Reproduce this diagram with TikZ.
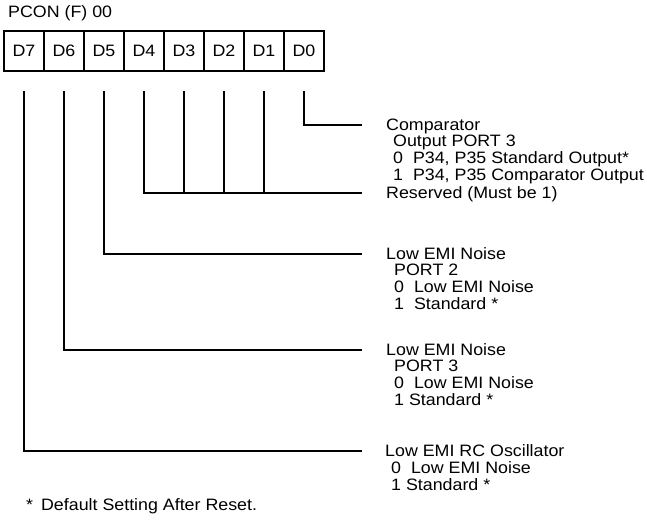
\documentclass[tikz,border=0pt]{standalone}
\usepackage{fontspec}
\setmainfont{Liberation Sans}[FakeStretch=1.08]
\usetikzlibrary{positioning}

\begin{document}
\begin{tikzpicture}[
                x=1pt, y=-1pt,
                bit/.style={rectangle, draw, line width=1.6pt, minimum width=40pt, minimum height=40pt, inner sep=0pt, outer sep=0pt, font=\fontsize{16.5}{17}\selectfont},
                head/.style={anchor=west, inner sep=0pt, text height=11.5pt, text depth=0pt, font=\fontsize{16.5}{17}\selectfont},
                sub/.style={align=left, inner sep=0pt, font=\fontsize{16.5}{17}\selectfont},
                wire/.style={draw, line width=2pt}
            ]
                \useasboundingbox (0,0) rectangle (647,524);

                % Register
                \node [head] (title) at (8,12) {PCON (F) 00};
                \node [bit] (D7) at (24,51) {D7};
                \node [bit, right=0pt of D7] (D6) {D6};
                \node [bit, right=0pt of D6] (D5) {D5};
                \node [bit, right=0pt of D5] (D4) {D4};
                \node [bit, right=0pt of D4] (D3) {D3};
                \node [bit, right=0pt of D3] (D2) {D2};
                \node [bit, right=0pt of D2] (D1) {D1};
                \node [bit, right=0pt of D1] (D0) {D0};

                % Tops of the bit lines
                \coordinate (t7) at ([yshift=-20pt]D7.south);
                \coordinate (t6) at ([yshift=-20pt]D6.south);
                \coordinate (t5) at ([yshift=-20pt]D5.south);
                \coordinate (t4) at ([yshift=-20pt]D4.south);
                \coordinate (t3) at ([yshift=-20pt]D3.south);
                \coordinate (t2) at ([yshift=-20pt]D2.south);
                \coordinate (t1) at ([yshift=-20pt]D1.south);
                \coordinate (t0) at ([yshift=-20pt]D0.south);

                % Descriptions
                \node [head] (cmp) at (386,125) {Comparator};
                \node [sub, below right=4pt and 7pt of cmp.south west] (cmp_sub) {Output PORT 3\\0\ \ P34, P35 Standard Output*\\1\ \ P34, P35 Comparator Output};
                \node [head] (res) at (386,193) {Reserved (Must be 1)};
                \node [head] (emi2) at (386,254) {Low EMI Noise};
                \node [sub, below right=4pt and 8pt of emi2.south west] (emi2_sub) {PORT 2\\0\ \ Low EMI Noise\\1\ \ Standard *};
                \node [head] (emi3) at (386,350) {Low EMI Noise};
                \node [sub, below right=4pt and 8pt of emi3.south west] (emi3_sub) {PORT 3\\0\ \ Low EMI Noise\\1 Standard *};
                \node [head] (osc) at (385,451) {Low EMI RC Oscillator};
                \node [sub, below right=4pt and 6pt of osc.south west] (osc_sub) {0\ \ Low EMI Noise\\1 Standard *};
                \node [head] (note) at (26,505) {*\hspace{8pt}Default Setting After Reset.};

                % Bit lines
                \path [wire] (t0) |- ([xshift=-24pt]cmp.west);
                \path [wire] (t4) |- ([xshift=-24pt]res.west);
                \path [wire] (t3) -- (t3 |- res.west);
                \path [wire] (t2) -- (t2 |- res.west);
                \path [wire] (t1) -- (t1 |- res.west);
                \path [wire] (t5) |- ([xshift=-24pt]emi2.west);
                \path [wire] (t6) |- ([xshift=-24pt]emi3.west);
                \path [wire] (t7) |- ([xshift=-23pt]osc.west);

            \end{tikzpicture}
\end{document}
